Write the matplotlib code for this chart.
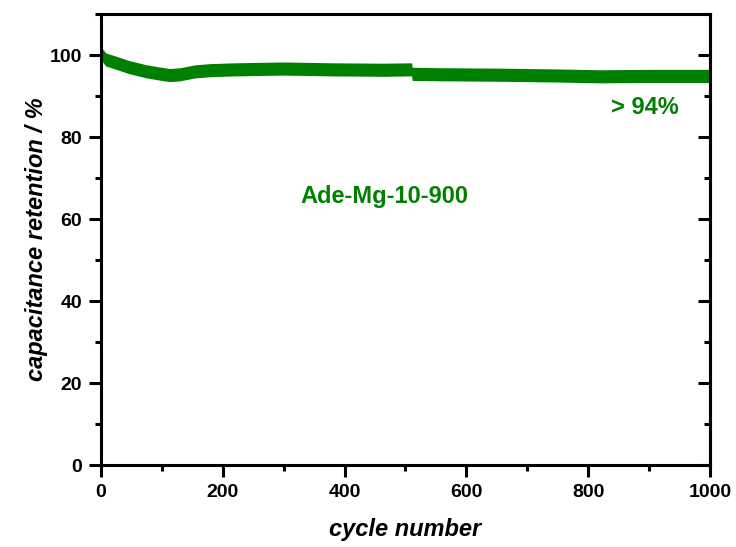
import numpy as np
import matplotlib.pyplot as plt
from matplotlib.ticker import MultipleLocator

plt.rcParams['font.family'] = ['Liberation Sans', 'DejaVu Sans']

# data
cycles = np.array([0, 3, 8, 23, 45, 72, 95, 113, 130, 154, 179, 220, 299, 380, 463, 510, 511,
                   560, 650, 750, 819, 900, 1000])
retention = np.array([101.0, 99.8, 98.9, 98.2, 97.1, 96.1, 95.5, 95.1, 95.3, 96.0, 96.3, 96.5,
                      96.7, 96.5, 96.4, 96.5, 95.4, 95.3, 95.2, 95.0, 94.8, 94.9, 94.9])
sample_name = "Ade-Mg-10-900"
retention_note = "> 94%"

green = "#008000"
half_band = 1.6   # thick band of overlapping markers in the original

fig = plt.figure(figsize=(7.36, 5.47), dpi=100)
ax = fig.add_axes([0.1372, 0.1499, 0.8275, 0.8245])

ax.fill_between(cycles, retention - half_band, retention + half_band,
                color=green, lw=0)

ax.set_xlim(0, 1000)
ax.set_ylim(0, 110)
ax.xaxis.set_major_locator(MultipleLocator(200))
ax.xaxis.set_minor_locator(MultipleLocator(100))
ax.yaxis.set_major_locator(MultipleLocator(20))
ax.yaxis.set_minor_locator(MultipleLocator(10))

for s in ax.spines.values():
    s.set_linewidth(2.2)

# left / bottom ticks outward, none on top
ax.tick_params(axis='both', which='major', direction='out', length=8.6, width=2.2,
               labelsize=14, pad=5)
ax.tick_params(axis='both', which='minor', direction='out', length=4.5, width=2.2)
ax.tick_params(axis='x', which='both', top=False)
ax.tick_params(axis='y', which='both', right=False)
for lbl in ax.get_xticklabels() + ax.get_yticklabels():
    lbl.set_fontweight('bold')

# right ticks drawn inward
axr = ax.secondary_yaxis('right')
axr.yaxis.set_major_locator(MultipleLocator(20))
axr.yaxis.set_minor_locator(MultipleLocator(10))
axr.tick_params(which='major', direction='in', length=8.6, width=2.2, labelright=False)
axr.tick_params(which='minor', direction='in', length=4.5, width=2.2)
axr.spines['right'].set_linewidth(2.2)

ax.set_xlabel("cycle number", fontsize=17, fontweight='bold', style='italic', labelpad=12)
ax.set_ylabel("capacitance retention / %", fontsize=17, fontweight='bold',
              style='italic', labelpad=1)

ax.text(466, 65.4, sample_name, color=green, fontsize=17, fontweight='bold',
        ha='center', va='center')
ax.text(893, 87.3, retention_note, color=green, fontsize=17, fontweight='bold',
        ha='center', va='center')

fig.savefig("out.png", dpi=100)
